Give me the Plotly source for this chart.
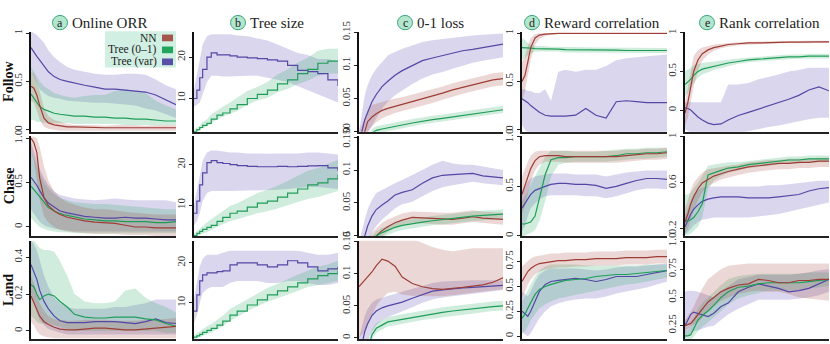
import plotly.graph_objects as go

# ---------------- data ----------------
X = [0, 2, 4, 6, 9, 12, 16, 20, 25, 30, 37, 44, 51, 58, 65, 72, 79, 86, 93, 100]

# Follow / Online ORR
fo_orr_nn = [0.45, 0.43, 0.36, 0.25, 0.12, 0.07, 0.05, 0.04, 0.03, 0.03, 0.025, 0.025, 0.02, 0.02, 0.02, 0.02, 0.02, 0.02, 0.02, 0.02]
fo_orr_nn_lo = [0.3, 0.28, 0.2, 0.1, 0.03, 0.01, 0.0, -0.01, -0.01, -0.01, -0.01, -0.01, -0.01, -0.01, -0.01, -0.01, -0.01, -0.01, -0.01, -0.01]
fo_orr_nn_hi = [0.6, 0.58, 0.5, 0.4, 0.22, 0.14, 0.1, 0.08, 0.06, 0.05, 0.05, 0.05, 0.04, 0.05, 0.05, 0.05, 0.04, 0.05, 0.05, 0.05]
fo_orr_t01 = [0.37, 0.33, 0.28, 0.24, 0.21, 0.19, 0.17, 0.16, 0.15, 0.14, 0.14, 0.13, 0.13, 0.12, 0.12, 0.11, 0.11, 0.1, 0.09, 0.09]
fo_orr_t01_lo = [0.1, 0.1, 0.08, 0.08, 0.07, 0.07, 0.07, 0.07, 0.07, 0.06, 0.06, 0.06, 0.06, 0.06, 0.05, 0.05, 0.05, 0.05, 0.05, 0.05]
fo_orr_t01_hi = [0.65, 0.6, 0.55, 0.5, 0.45, 0.42, 0.38, 0.36, 0.34, 0.33, 0.35, 0.36, 0.36, 0.4, 0.42, 0.4, 0.38, 0.3, 0.25, 0.21]
fo_orr_tv = [0.85, 0.8, 0.76, 0.72, 0.66, 0.6, 0.55, 0.52, 0.5, 0.48, 0.46, 0.44, 0.42, 0.42, 0.41, 0.4, 0.39, 0.36, 0.31, 0.26]
fo_orr_tv_lo = [0.62, 0.55, 0.48, 0.42, 0.38, 0.35, 0.33, 0.32, 0.3, 0.3, 0.29, 0.28, 0.28, 0.27, 0.26, 0.25, 0.22, 0.2, 0.16, 0.12]
fo_orr_tv_hi = [1.02, 1.0, 0.98, 0.95, 0.9, 0.82, 0.75, 0.7, 0.65, 0.62, 0.6, 0.58, 0.57, 0.57, 0.58, 0.58, 0.57, 0.52, 0.46, 0.42]

# Follow / Tree size
fo_ts_t01 = [2, 2.5, 3, 3.5, 4, 5, 6, 6.5, 7.5, 8.5, 10, 11, 12, 13.5, 14.5, 16, 17, 18.5, 19, 19]
fo_ts_t01_lo = [1.5, 2, 2.5, 2.8, 3.2, 4, 5, 5.5, 6.3, 7, 8.5, 9.5, 10.2, 11.5, 12.3, 13.5, 14.3, 15.5, 16, 16]
fo_ts_t01_hi = [2.5, 3, 3.5, 4.3, 5, 6.2, 7.2, 8, 9, 10.2, 11.8, 12.8, 14, 15.8, 17, 18.6, 19.8, 21.5, 22, 22]
fo_ts_tv = [10, 12, 15, 17, 20, 21, 20.5, 20.5, 20.3, 20, 19.8, 19.6, 19.3, 19, 18, 16.8, 16.5, 16, 14.5, 13]
fo_ts_tv_lo = [8, 8.5, 9, 11, 14, 15.5, 15.5, 15.3, 15.3, 15.3, 15.5, 15.5, 15, 14.5, 14, 13, 12, 11, 10, 9]
fo_ts_tv_hi = [12, 16, 20, 23, 25, 25.5, 25.5, 25.5, 25.5, 25.2, 25, 24.5, 24, 23, 22, 21, 20.5, 19.5, 19.5, 19]

# Follow / 0-1 loss
fo_loss_nn = [-0.02, -0.01, 0.0, 0.015, 0.022, 0.027, 0.032, 0.035, 0.038, 0.041, 0.045, 0.049, 0.053, 0.058, 0.063, 0.067, 0.071, 0.075, 0.078, 0.08]
fo_loss_nn_lo = [-0.03, -0.02, -0.01, 0.0, 0.008, 0.014, 0.02, 0.024, 0.028, 0.031, 0.035, 0.039, 0.043, 0.048, 0.053, 0.057, 0.061, 0.065, 0.068, 0.07]
fo_loss_nn_hi = [0.0, 0.01, 0.02, 0.033, 0.04, 0.042, 0.045, 0.047, 0.05, 0.052, 0.056, 0.06, 0.063, 0.068, 0.073, 0.077, 0.081, 0.085, 0.088, 0.09]
fo_loss_t01 = [-0.03, -0.025, -0.02, -0.012, -0.002, 0.002, 0.004, 0.006, 0.008, 0.01, 0.013, 0.016, 0.018, 0.02, 0.022, 0.024, 0.026, 0.028, 0.031, 0.033]
fo_loss_t01_lo = [-0.035, -0.03, -0.025, -0.017, -0.007, -0.003, -0.001, 0.001, 0.003, 0.005, 0.008, 0.011, 0.013, 0.015, 0.017, 0.019, 0.021, 0.023, 0.026, 0.028]
fo_loss_t01_hi = [-0.024, -0.019, -0.014, -0.006, 0.004, 0.008, 0.01, 0.012, 0.014, 0.016, 0.019, 0.022, 0.024, 0.026, 0.028, 0.03, 0.032, 0.034, 0.037, 0.039]
fo_loss_tv = [-0.03, 0.0, 0.018, 0.03, 0.045, 0.056, 0.068, 0.076, 0.085, 0.092, 0.1, 0.107, 0.111, 0.115, 0.119, 0.122, 0.124, 0.127, 0.13, 0.132]
fo_loss_tv_lo = [-0.05, -0.02, -0.01, 0.0, 0.01, 0.02, 0.035, 0.045, 0.055, 0.062, 0.072, 0.08, 0.086, 0.09, 0.095, 0.1, 0.104, 0.107, 0.11, 0.112]
fo_loss_tv_hi = [0.0, 0.03, 0.055, 0.07, 0.085, 0.095, 0.105, 0.115, 0.12, 0.125, 0.13, 0.135, 0.138, 0.14, 0.142, 0.143, 0.145, 0.146, 0.147, 0.148]

# Follow / Reward correlation
fo_rew_nn = [0.5, 0.56, 0.7, 0.85, 0.95, 0.98, 0.99, 0.995, 0.998, 0.998, 0.998, 0.998, 0.998, 0.998, 0.998, 0.998, 0.998, 0.998, 0.998, 0.998]
fo_rew_nn_lo = [0.3, 0.4, 0.55, 0.72, 0.88, 0.94, 0.97, 0.98, 0.99, 0.99, 0.99, 0.99, 0.99, 0.99, 0.99, 0.99, 0.99, 0.99, 0.99, 0.99]
fo_rew_nn_hi = [0.7, 0.75, 0.87, 0.95, 0.99, 1.0, 1.0, 1.0, 1.0, 1.0, 1.0, 1.0, 1.0, 1.0, 1.0, 1.0, 1.0, 1.0, 1.0, 1.0]
fo_rew_t01 = [0.85, 0.85, 0.85, 0.845, 0.84, 0.84, 0.84, 0.84, 0.835, 0.83, 0.83, 0.83, 0.825, 0.825, 0.825, 0.82, 0.82, 0.82, 0.82, 0.82]
fo_rew_t01_lo = [0.72, 0.74, 0.77, 0.79, 0.81, 0.81, 0.81, 0.81, 0.81, 0.8, 0.8, 0.8, 0.8, 0.8, 0.8, 0.795, 0.795, 0.795, 0.795, 0.795]
fo_rew_t01_hi = [0.95, 0.93, 0.9, 0.88, 0.87, 0.865, 0.865, 0.86, 0.86, 0.86, 0.855, 0.855, 0.85, 0.85, 0.85, 0.845, 0.845, 0.845, 0.845, 0.845]
fo_rew_tv = [0.32, 0.3, 0.28, 0.25, 0.21, 0.18, 0.15, 0.14, 0.14, 0.14, 0.15, 0.22, 0.15, 0.12, 0.29, 0.3, 0.29, 0.28, 0.28, 0.28]
fo_rew_tv_lo = [0.05, 0.0, -0.03, -0.03, -0.03, -0.03, -0.03, -0.03, -0.03, -0.03, -0.03, -0.03, -0.03, -0.03, -0.03, -0.03, -0.03, -0.03, -0.03, -0.03]
fo_rew_tv_hi = [0.42, 0.42, 0.4, 0.4, 0.38, 0.38, 0.42, 0.3, 0.6, 0.62, 0.6, 0.62, 0.62, 0.66, 0.72, 0.74, 0.75, 0.76, 0.77, 0.78]

# Follow / Rank correlation
fo_rank_nn = [-0.04, 0.1, 0.3, 0.5, 0.65, 0.73, 0.78, 0.81, 0.83, 0.85, 0.86, 0.87, 0.87, 0.875, 0.88, 0.88, 0.88, 0.885, 0.885, 0.885]
fo_rank_nn_lo = [-0.2, -0.1, 0.08, 0.3, 0.52, 0.64, 0.72, 0.77, 0.8, 0.82, 0.84, 0.85, 0.855, 0.86, 0.865, 0.865, 0.865, 0.87, 0.87, 0.87]
fo_rank_nn_hi = [0.1, 0.3, 0.52, 0.7, 0.78, 0.81, 0.83, 0.85, 0.86, 0.87, 0.88, 0.885, 0.89, 0.89, 0.895, 0.895, 0.9, 0.9, 0.9, 0.9]
fo_rank_t01 = [0.33, 0.36, 0.4, 0.45, 0.5, 0.53, 0.55, 0.57, 0.59, 0.61, 0.63, 0.65, 0.66, 0.67, 0.68, 0.69, 0.69, 0.7, 0.7, 0.7]
fo_rank_t01_lo = [0.18, 0.22, 0.28, 0.35, 0.42, 0.46, 0.49, 0.52, 0.54, 0.57, 0.6, 0.62, 0.63, 0.64, 0.65, 0.66, 0.665, 0.67, 0.67, 0.67]
fo_rank_t01_hi = [0.5, 0.52, 0.55, 0.58, 0.6, 0.61, 0.62, 0.63, 0.64, 0.65, 0.67, 0.68, 0.69, 0.7, 0.71, 0.72, 0.72, 0.73, 0.73, 0.73]
fo_rank_tv = [0.03, 0.02, 0.0, -0.04, -0.09, -0.13, -0.17, -0.19, -0.18, -0.13, -0.07, -0.03, 0.01, 0.05, 0.1, 0.14, 0.19, 0.26, 0.3, 0.25]
fo_rank_tv_lo = [-0.25, -0.27, -0.3, -0.3, -0.3, -0.3, -0.3, -0.3, -0.3, -0.3, -0.3, -0.28, -0.25, -0.22, -0.2, -0.18, -0.15, -0.12, -0.1, -0.1]
fo_rank_tv_hi = [0.1, 0.1, 0.1, 0.1, 0.1, 0.1, 0.1, 0.1, 0.1, 0.33, 0.33, 0.35, 0.4, 0.43, 0.46, 0.5, 0.52, 0.55, 0.55, 0.55]

# Chase / Online ORR
ch_orr_nn = [1.0, 0.95, 0.84, 0.55, 0.33, 0.24, 0.18, 0.14, 0.11, 0.09, 0.07, 0.055, 0.05, 0.04, 0.02, 0.0, 0.0, -0.01, -0.01, -0.01]
ch_orr_nn_lo = [0.85, 0.75, 0.55, 0.3, 0.12, 0.05, 0.0, -0.03, -0.05, -0.06, -0.07, -0.08, -0.08, -0.08, -0.09, -0.09, -0.09, -0.1, -0.1, -0.1]
ch_orr_nn_hi = [1.02, 1.02, 1.0, 0.9, 0.68, 0.52, 0.4, 0.33, 0.28, 0.25, 0.22, 0.2, 0.2, 0.19, 0.17, 0.16, 0.15, 0.14, 0.14, 0.14]
ch_orr_t01 = [0.46, 0.42, 0.38, 0.33, 0.27, 0.22, 0.18, 0.15, 0.13, 0.11, 0.09, 0.08, 0.07, 0.07, 0.06, 0.06, 0.06, 0.05, 0.05, 0.06]
ch_orr_t01_lo = [0.1, 0.06, 0.03, 0.0, -0.02, -0.04, -0.05, -0.06, -0.06, -0.07, -0.07, -0.07, -0.07, -0.07, -0.07, -0.07, -0.07, -0.07, -0.07, -0.07]
ch_orr_t01_hi = [0.85, 0.78, 0.68, 0.6, 0.5, 0.43, 0.37, 0.33, 0.3, 0.28, 0.27, 0.26, 0.26, 0.25, 0.24, 0.23, 0.22, 0.21, 0.2, 0.2]
ch_orr_tv = [0.56, 0.52, 0.47, 0.41, 0.33, 0.27, 0.22, 0.18, 0.16, 0.14, 0.12, 0.11, 0.1, 0.1, 0.11, 0.1, 0.1, 0.09, 0.08, 0.08]
ch_orr_tv_lo = [0.2, 0.15, 0.1, 0.06, 0.02, 0.0, -0.02, -0.03, -0.04, -0.05, -0.05, -0.05, -0.05, -0.05, -0.05, -0.05, -0.05, -0.05, -0.05, -0.05]
ch_orr_tv_hi = [0.95, 0.85, 0.75, 0.65, 0.55, 0.47, 0.4, 0.36, 0.34, 0.32, 0.31, 0.3, 0.31, 0.32, 0.31, 0.3, 0.3, 0.3, 0.3, 0.28]

# Chase / Tree size
ch_ts_t01 = [2.5, 3, 3.5, 4, 4.5, 5, 6, 7, 8, 8.5, 9.5, 10.5, 11, 12, 13, 14, 15, 15.5, 16.5, 17.5]
ch_ts_t01_lo = [2, 2.3, 2.6, 3, 3.3, 3.7, 4.5, 5.3, 6, 6.5, 7.3, 8, 8.5, 9.2, 10, 10.8, 11.5, 12, 12.8, 13.5]
ch_ts_t01_hi = [3, 3.6, 4.3, 5, 5.7, 6.5, 7.5, 8.6, 9.8, 10.5, 11.8, 13, 13.8, 14.8, 16, 17.2, 18.5, 19.2, 20.2, 21.2]
ch_ts_tv = [8, 11, 15, 18, 20.5, 21, 20.5, 20.3, 20, 19.8, 19.6, 19.5, 19.5, 19.6, 19.5, 19.6, 19.7, 19.8, 19.2, 18.5]
ch_ts_tv_lo = [5, 6, 8, 11, 13, 13.5, 13.5, 13.5, 13.5, 13.5, 13.5, 13.6, 13.7, 13.8, 14, 14.2, 14.5, 14.5, 14.3, 14]
ch_ts_tv_hi = [10, 14, 18, 21, 23, 23.5, 23.5, 23.3, 23, 23, 22.8, 22.8, 22.7, 22.8, 22.8, 22.8, 23, 23, 22.8, 22.5]

# Chase / 0-1 loss
ch_loss_nn = [-0.03, -0.025, -0.02, -0.015, -0.008, 0.0, 0.008, 0.014, 0.02, 0.024, 0.028, 0.027, 0.026, 0.025, 0.025, 0.027, 0.029, 0.027, 0.026, 0.025]
ch_loss_nn_lo = [-0.04, -0.035, -0.03, -0.025, -0.016, -0.008, 0.0, 0.006, 0.012, 0.016, 0.02, 0.019, 0.018, 0.017, 0.017, 0.019, 0.021, 0.019, 0.018, 0.017]
ch_loss_nn_hi = [-0.02, -0.015, -0.01, -0.003, 0.005, 0.012, 0.02, 0.025, 0.03, 0.034, 0.037, 0.037, 0.036, 0.035, 0.035, 0.037, 0.039, 0.037, 0.036, 0.035]
ch_loss_t01 = [-0.03, -0.025, -0.02, -0.015, -0.008, 0.0, 0.005, 0.009, 0.013, 0.016, 0.019, 0.021, 0.023, 0.025, 0.026, 0.028, 0.03, 0.031, 0.032, 0.033]
ch_loss_t01_lo = [-0.037, -0.032, -0.027, -0.022, -0.015, -0.007, -0.002, 0.002, 0.006, 0.009, 0.012, 0.014, 0.016, 0.018, 0.019, 0.021, 0.023, 0.024, 0.025, 0.026]
ch_loss_t01_hi = [-0.023, -0.018, -0.013, -0.008, -0.001, 0.007, 0.012, 0.016, 0.02, 0.023, 0.026, 0.028, 0.03, 0.032, 0.033, 0.035, 0.037, 0.038, 0.039, 0.04]
ch_loss_tv = [-0.03, -0.015, 0.0, 0.015, 0.03, 0.04, 0.047, 0.053, 0.062, 0.066, 0.07, 0.08, 0.088, 0.092, 0.093, 0.094, 0.095, 0.091, 0.089, 0.088]
ch_loss_tv_lo = [-0.05, -0.04, -0.025, -0.01, 0.005, 0.015, 0.025, 0.032, 0.042, 0.048, 0.052, 0.06, 0.068, 0.074, 0.077, 0.08, 0.082, 0.08, 0.078, 0.077]
ch_loss_tv_hi = [-0.01, 0.01, 0.025, 0.04, 0.055, 0.065, 0.07, 0.075, 0.08, 0.085, 0.092, 0.1, 0.108, 0.114, 0.11, 0.108, 0.108, 0.105, 0.102, 0.1]

# Chase / Reward correlation
ch_rew_nn = [0.42, 0.5, 0.6, 0.68, 0.76, 0.8, 0.81, 0.81, 0.81, 0.8, 0.8, 0.8, 0.8, 0.8, 0.8, 0.81, 0.82, 0.83, 0.83, 0.84]
ch_rew_nn_lo = [0.22, 0.3, 0.42, 0.55, 0.66, 0.72, 0.75, 0.75, 0.75, 0.74, 0.74, 0.74, 0.74, 0.74, 0.74, 0.75, 0.76, 0.77, 0.77, 0.78]
ch_rew_nn_hi = [0.6, 0.68, 0.75, 0.81, 0.85, 0.86, 0.86, 0.86, 0.86, 0.86, 0.86, 0.86, 0.86, 0.86, 0.86, 0.87, 0.87, 0.88, 0.88, 0.89]
ch_rew_t01 = [0.12, 0.12, 0.13, 0.14, 0.2, 0.38, 0.62, 0.77, 0.79, 0.79, 0.8, 0.8, 0.8, 0.8, 0.81, 0.83, 0.83, 0.84, 0.84, 0.85]
ch_rew_t01_lo = [0.0, 0.0, 0.02, 0.03, 0.06, 0.15, 0.35, 0.6, 0.72, 0.74, 0.75, 0.75, 0.75, 0.75, 0.76, 0.77, 0.78, 0.78, 0.79, 0.8]
ch_rew_t01_hi = [0.35, 0.4, 0.45, 0.52, 0.6, 0.68, 0.8, 0.86, 0.86, 0.86, 0.85, 0.85, 0.85, 0.86, 0.87, 0.88, 0.88, 0.89, 0.89, 0.89]
ch_rew_tv = [0.28, 0.33, 0.38, 0.42, 0.46, 0.48, 0.5, 0.52, 0.53, 0.53, 0.52, 0.52, 0.51, 0.48, 0.5, 0.53, 0.56, 0.58, 0.58, 0.57]
ch_rew_tv_lo = [0.05, 0.1, 0.2, 0.28, 0.33, 0.37, 0.4, 0.41, 0.41, 0.41, 0.41, 0.4, 0.4, 0.38, 0.4, 0.43, 0.46, 0.48, 0.48, 0.47]
ch_rew_tv_hi = [0.45, 0.5, 0.55, 0.58, 0.6, 0.61, 0.62, 0.63, 0.63, 0.63, 0.62, 0.62, 0.62, 0.6, 0.62, 0.64, 0.65, 0.66, 0.66, 0.66]

# Chase / Rank correlation
ch_rank_nn = [0.26, 0.33, 0.42, 0.48, 0.55, 0.6, 0.63, 0.66, 0.68, 0.7, 0.72, 0.74, 0.75, 0.76, 0.77, 0.77, 0.78, 0.78, 0.79, 0.79]
ch_rank_nn_lo = [0.16, 0.2, 0.28, 0.36, 0.45, 0.52, 0.57, 0.6, 0.63, 0.65, 0.67, 0.69, 0.7, 0.71, 0.72, 0.72, 0.73, 0.73, 0.74, 0.74]
ch_rank_nn_hi = [0.38, 0.45, 0.54, 0.6, 0.65, 0.69, 0.72, 0.73, 0.74, 0.75, 0.76, 0.78, 0.79, 0.8, 0.8, 0.81, 0.81, 0.81, 0.82, 0.82]
ch_rank_t01 = [0.27, 0.27, 0.28, 0.3, 0.35, 0.42, 0.67, 0.69, 0.71, 0.73, 0.74, 0.76, 0.77, 0.78, 0.79, 0.8, 0.8, 0.81, 0.81, 0.81]
ch_rank_t01_lo = [0.15, 0.15, 0.16, 0.18, 0.22, 0.3, 0.55, 0.62, 0.66, 0.69, 0.71, 0.73, 0.74, 0.75, 0.76, 0.77, 0.77, 0.78, 0.78, 0.78]
ch_rank_t01_hi = [0.5, 0.5, 0.52, 0.55, 0.6, 0.66, 0.75, 0.76, 0.77, 0.78, 0.78, 0.79, 0.8, 0.81, 0.82, 0.83, 0.83, 0.84, 0.84, 0.84]
ch_rank_tv = [0.22, 0.28, 0.33, 0.37, 0.41, 0.44, 0.46, 0.47, 0.48, 0.48, 0.48, 0.47, 0.47, 0.47, 0.48, 0.49, 0.5, 0.53, 0.55, 0.56]
ch_rank_tv_lo = [0.15, 0.17, 0.2, 0.23, 0.26, 0.28, 0.29, 0.3, 0.3, 0.3, 0.3, 0.3, 0.31, 0.32, 0.33, 0.35, 0.37, 0.39, 0.41, 0.43]
ch_rank_tv_hi = [0.32, 0.38, 0.45, 0.5, 0.54, 0.56, 0.57, 0.57, 0.57, 0.57, 0.57, 0.57, 0.57, 0.58, 0.58, 0.59, 0.6, 0.61, 0.62, 0.62]

# Land / Online ORR
la_orr_nn = [0.19, 0.15, 0.11, 0.08, 0.05, 0.035, 0.02, 0.01, 0.005, 0.005, 0.01, 0.015, 0.015, 0.01, 0.005, 0.005, 0.01, 0.015, 0.02, 0.025]
la_orr_nn_lo = [0.05, 0.03, 0.0, -0.02, -0.03, -0.035, -0.04, -0.04, -0.04, -0.04, -0.04, -0.04, -0.04, -0.04, -0.04, -0.04, -0.04, -0.04, -0.04, -0.04]
la_orr_nn_hi = [0.3, 0.26, 0.2, 0.15, 0.11, 0.08, 0.065, 0.06, 0.055, 0.055, 0.06, 0.06, 0.06, 0.055, 0.055, 0.055, 0.06, 0.06, 0.065, 0.07]
la_orr_t01 = [0.25, 0.24, 0.2, 0.17, 0.19, 0.2, 0.19, 0.16, 0.13, 0.09, 0.075, 0.07, 0.07, 0.075, 0.075, 0.075, 0.065, 0.06, 0.04, 0.025]
la_orr_t01_lo = [0.08, 0.07, 0.05, 0.04, 0.04, 0.04, 0.03, 0.02, 0.01, 0.0, 0.0, 0.0, 0.0, 0.0, 0.0, 0.0, 0.0, 0.0, -0.01, -0.01]
la_orr_t01_hi = [0.49, 0.49, 0.47, 0.45, 0.44, 0.44, 0.43, 0.38, 0.3, 0.2, 0.16, 0.15, 0.15, 0.16, 0.22, 0.23, 0.18, 0.15, 0.13, 0.1]
la_orr_tv = [0.36, 0.32, 0.28, 0.22, 0.16, 0.12, 0.08, 0.055, 0.045, 0.045, 0.045, 0.05, 0.05, 0.05, 0.045, 0.04, 0.05, 0.065, 0.045, 0.04]
la_orr_tv_lo = [0.2, 0.15, 0.1, 0.06, 0.03, 0.01, 0.0, -0.01, -0.02, -0.02, -0.02, -0.02, -0.02, -0.02, -0.02, -0.02, -0.02, -0.02, -0.02, -0.02]
la_orr_tv_hi = [0.49, 0.47, 0.44, 0.38, 0.3, 0.24, 0.18, 0.15, 0.13, 0.12, 0.12, 0.12, 0.12, 0.13, 0.13, 0.14, 0.15, 0.17, 0.17, 0.17]

# Land / Tree size
la_ts_t01 = [1.5, 1.8, 2.2, 2.7, 3.2, 3.7, 4.5, 5.5, 7, 8, 9.5, 10.8, 12, 13, 14, 15, 16, 16.8, 17.3, 18]
la_ts_t01_lo = [1, 1.2, 1.5, 1.8, 2.2, 2.6, 3.3, 4.2, 5.5, 6.5, 8, 9.2, 10.3, 11.2, 12, 13, 14, 14.6, 15, 15.5]
la_ts_t01_hi = [2, 2.5, 3, 3.6, 4.2, 4.8, 5.8, 6.8, 8.5, 9.5, 11, 12.4, 13.7, 14.8, 16, 17, 18, 19, 19.6, 20.5]
la_ts_tv = [8, 12, 15.5, 17, 17.5, 17.5, 17.8, 18, 19.5, 20, 20, 19.5, 19, 19.5, 20.5, 20, 19, 18, 18.5, 19]
la_ts_tv_lo = [5, 7, 10, 12.5, 13.5, 14, 14, 14, 15, 15.5, 15.5, 15.5, 15, 15, 15.5, 15.5, 15, 14.5, 14.5, 15]
la_ts_tv_hi = [11, 15, 19, 21, 22, 22, 22, 22.5, 23, 23, 23, 23, 23, 23, 23, 23, 22.5, 22, 22, 22.5]

# Land / 0-1 loss
la_loss_nn = [0.08, 0.085, 0.09, 0.095, 0.103, 0.113, 0.123, 0.12, 0.112, 0.095, 0.085, 0.08, 0.077, 0.076, 0.077, 0.079, 0.081, 0.083, 0.087, 0.094]
la_loss_nn_lo = [0.0, 0.005, 0.01, 0.02, 0.035, 0.05, 0.062, 0.07, 0.072, 0.068, 0.066, 0.065, 0.065, 0.065, 0.066, 0.068, 0.07, 0.072, 0.074, 0.076]
la_loss_nn_hi = [0.16, 0.16, 0.16, 0.16, 0.16, 0.16, 0.16, 0.16, 0.16, 0.16, 0.155, 0.148, 0.142, 0.138, 0.135, 0.138, 0.14, 0.14, 0.14, 0.14]
la_loss_t01 = [-0.03, -0.03, -0.025, -0.02, 0.005, 0.015, 0.02, 0.025, 0.027, 0.029, 0.032, 0.035, 0.038, 0.04, 0.042, 0.044, 0.046, 0.047, 0.049, 0.05]
la_loss_t01_lo = [-0.037, -0.037, -0.032, -0.027, -0.002, 0.008, 0.013, 0.018, 0.02, 0.022, 0.025, 0.028, 0.031, 0.033, 0.035, 0.037, 0.039, 0.04, 0.042, 0.043]
la_loss_t01_hi = [-0.022, -0.022, -0.017, -0.012, 0.013, 0.023, 0.028, 0.033, 0.035, 0.037, 0.04, 0.043, 0.046, 0.048, 0.05, 0.052, 0.054, 0.055, 0.057, 0.058]
la_loss_tv = [-0.03, -0.01, 0.01, 0.022, 0.035, 0.042, 0.047, 0.05, 0.053, 0.056, 0.062, 0.068, 0.073, 0.075, 0.077, 0.078, 0.079, 0.08, 0.081, 0.082]
la_loss_tv_lo = [-0.06, -0.04, -0.02, -0.005, 0.01, 0.02, 0.028, 0.033, 0.037, 0.041, 0.048, 0.055, 0.06, 0.063, 0.066, 0.068, 0.07, 0.071, 0.073, 0.075]
la_loss_tv_hi = [0.0, 0.02, 0.035, 0.045, 0.055, 0.06, 0.063, 0.066, 0.069, 0.072, 0.077, 0.082, 0.086, 0.088, 0.089, 0.09, 0.09, 0.09, 0.09, 0.09]

# Land / Reward correlation
la_rew_nn = [0.55, 0.6, 0.65, 0.68, 0.71, 0.73, 0.74, 0.75, 0.76, 0.76, 0.77, 0.77, 0.78, 0.78, 0.78, 0.79, 0.79, 0.79, 0.8, 0.8]
la_rew_nn_lo = [0.38, 0.45, 0.52, 0.57, 0.62, 0.65, 0.67, 0.68, 0.69, 0.69, 0.7, 0.7, 0.71, 0.71, 0.71, 0.72, 0.72, 0.72, 0.73, 0.73]
la_rew_nn_hi = [0.7, 0.73, 0.76, 0.78, 0.8, 0.81, 0.82, 0.83, 0.83, 0.84, 0.84, 0.84, 0.85, 0.85, 0.85, 0.86, 0.86, 0.86, 0.87, 0.87]
la_rew_t01 = [0.18, 0.22, 0.28, 0.34, 0.42, 0.47, 0.5, 0.52, 0.54, 0.56, 0.57, 0.58, 0.6, 0.61, 0.62, 0.62, 0.63, 0.64, 0.65, 0.66]
la_rew_t01_lo = [0.02, 0.05, 0.1, 0.16, 0.22, 0.28, 0.32, 0.35, 0.38, 0.4, 0.42, 0.44, 0.46, 0.48, 0.5, 0.52, 0.53, 0.55, 0.57, 0.59]
la_rew_t01_hi = [0.35, 0.4, 0.46, 0.52, 0.6, 0.66, 0.7, 0.72, 0.72, 0.72, 0.72, 0.71, 0.71, 0.71, 0.71, 0.71, 0.71, 0.72, 0.72, 0.72]
la_rew_tv = [0.25, 0.22, 0.2, 0.25, 0.35, 0.45, 0.52, 0.55, 0.56, 0.57, 0.58, 0.57, 0.55, 0.57, 0.6, 0.6, 0.6, 0.62, 0.64, 0.66]
la_rew_tv_lo = [0.05, 0.02, 0.0, 0.03, 0.1, 0.18, 0.25, 0.3, 0.33, 0.35, 0.37, 0.38, 0.38, 0.4, 0.43, 0.45, 0.47, 0.49, 0.52, 0.55]
la_rew_tv_hi = [0.45, 0.42, 0.4, 0.45, 0.55, 0.62, 0.66, 0.68, 0.68, 0.68, 0.68, 0.67, 0.66, 0.67, 0.69, 0.7, 0.7, 0.71, 0.72, 0.73]

# Land / Rank correlation
la_rank_nn = [0.25, 0.26, 0.27, 0.3, 0.35, 0.4, 0.46, 0.5, 0.55, 0.58, 0.61, 0.62, 0.66, 0.65, 0.63, 0.63, 0.65, 0.65, 0.66, 0.66]
la_rank_nn_lo = [0.2, 0.22, 0.24, 0.26, 0.28, 0.32, 0.38, 0.42, 0.47, 0.5, 0.53, 0.55, 0.56, 0.55, 0.55, 0.53, 0.5, 0.49, 0.48, 0.47]
la_rank_nn_hi = [0.3, 0.33, 0.37, 0.42, 0.5, 0.58, 0.66, 0.7, 0.75, 0.78, 0.79, 0.8, 0.8, 0.8, 0.8, 0.8, 0.8, 0.8, 0.8, 0.8]
la_rank_t01 = [0.16, 0.16, 0.17, 0.22, 0.3, 0.34, 0.38, 0.43, 0.5, 0.55, 0.59, 0.6, 0.62, 0.63, 0.63, 0.63, 0.63, 0.64, 0.65, 0.66]
la_rank_t01_lo = [0.13, 0.13, 0.13, 0.15, 0.2, 0.24, 0.28, 0.32, 0.38, 0.44, 0.49, 0.52, 0.54, 0.56, 0.56, 0.56, 0.57, 0.58, 0.59, 0.6]
la_rank_t01_hi = [0.2, 0.21, 0.24, 0.3, 0.4, 0.45, 0.5, 0.55, 0.61, 0.66, 0.69, 0.7, 0.71, 0.71, 0.71, 0.71, 0.71, 0.72, 0.72, 0.72]
la_rank_tv = [0.25, 0.3, 0.35, 0.37, 0.36, 0.35, 0.33, 0.36, 0.42, 0.45, 0.55, 0.59, 0.62, 0.6, 0.58, 0.55, 0.56, 0.58, 0.62, 0.66]
la_rank_tv_lo = [0.14, 0.16, 0.18, 0.2, 0.21, 0.22, 0.24, 0.25, 0.3, 0.35, 0.4, 0.44, 0.48, 0.48, 0.48, 0.48, 0.49, 0.5, 0.52, 0.55]
la_rank_tv_hi = [0.55, 0.56, 0.56, 0.56, 0.55, 0.54, 0.52, 0.5, 0.56, 0.6, 0.66, 0.68, 0.7, 0.7, 0.7, 0.7, 0.71, 0.72, 0.74, 0.75]

# Labels
col_titles = ["Online ORR", "Tree size", "0-1 loss", "Reward correlation", "Rank correlation"]
col_letters = ["a", "b", "c", "d", "e"]
row_titles = ["Follow", "Chase", "Land"]
legend_labels = ["NN", "Tree (0–1)", "Tree (var)"]

tick_vals = [
    [[0, 0.5, 1], [10, 20], [0, 0.05, 0.1, 0.15], [0, 0.5, 1], [0, 0.5, 1]],
    [[0, 0.5, 1], [10, 20], [0, 0.05, 0.1, 0.15], [0, 0.5, 1], [0.2, 0.6, 1]],
    [[0, 0.2, 0.4], [10, 20], [0, 0.05, 0.1, 0.15], [0, 0.25, 0.5, 0.75], [0.25, 0.5, 0.75, 1]],
]
tick_text = [
    [["0", "0.5", "1"], ["10", "20"], ["0", "0.05", "0.1", "0.15"], ["0", "0.5", "1"], ["0", "0.5", "1"]],
    [["0", "0.5", "1.0"], ["10", "20"], ["0", "0.05", "0.1", "0.150"], ["0", "0.5", "1.0"], ["0.2", "0.6", "1"]],
    [["0", "0.2", "0.4"], ["10", "20"], ["0", "0.05", "0.1", "0.15"], ["0", "0.25", "0.5", "0.75"], ["0.25", "0.5", "0.75", "1.0"]],
]

# ---------------- style / layout ----------------
W, H = 830, 344
FONT = "Liberation Serif"
LINE = {"nn": "#9e3d36", "t01": "#1f9d58", "tv": "#5447a6"}
BAND = {"nn": "rgba(165,75,65,0.22)", "t01": "rgba(40,170,100,0.22)", "tv": "rgba(95,85,180,0.24)"}
SWATCH = {"nn": "#a4554c", "t01": "#22a45d", "tv": "#5a4fa6"}

y_ranges = [
    [[-0.02, 1.01], [2, 26], [0, 0.15], [-0.02, 1.01], [-0.28, 1.01]],
    [[-0.1, 1.02], [2.4, 27], [0, 0.151], [0, 1.005], [0.14, 1.005]],
    [[-0.045, 0.49], [1, 25.5], [-0.002, 0.152], [-0.03, 0.96], [0.13, 1.003]],
]
col_px = [(31, 176), (194, 338), (359, 503), (522, 667), (685, 829)]
row_px = [(19, 123), (128, 232), (237, 340)]
title_circle_x = [60, 238, 405, 532, 707]

data_grid = [
    [
        [("tv", fo_orr_tv, fo_orr_tv_lo, fo_orr_tv_hi), ("t01", fo_orr_t01, fo_orr_t01_lo, fo_orr_t01_hi), ("nn", fo_orr_nn, fo_orr_nn_lo, fo_orr_nn_hi)],
        [("tv", fo_ts_tv, fo_ts_tv_lo, fo_ts_tv_hi), ("t01", fo_ts_t01, fo_ts_t01_lo, fo_ts_t01_hi)],
        [("tv", fo_loss_tv, fo_loss_tv_lo, fo_loss_tv_hi), ("nn", fo_loss_nn, fo_loss_nn_lo, fo_loss_nn_hi), ("t01", fo_loss_t01, fo_loss_t01_lo, fo_loss_t01_hi)],
        [("tv", fo_rew_tv, fo_rew_tv_lo, fo_rew_tv_hi), ("t01", fo_rew_t01, fo_rew_t01_lo, fo_rew_t01_hi), ("nn", fo_rew_nn, fo_rew_nn_lo, fo_rew_nn_hi)],
        [("tv", fo_rank_tv, fo_rank_tv_lo, fo_rank_tv_hi), ("t01", fo_rank_t01, fo_rank_t01_lo, fo_rank_t01_hi), ("nn", fo_rank_nn, fo_rank_nn_lo, fo_rank_nn_hi)],
    ],
    [
        [("tv", ch_orr_tv, ch_orr_tv_lo, ch_orr_tv_hi), ("t01", ch_orr_t01, ch_orr_t01_lo, ch_orr_t01_hi), ("nn", ch_orr_nn, ch_orr_nn_lo, ch_orr_nn_hi)],
        [("tv", ch_ts_tv, ch_ts_tv_lo, ch_ts_tv_hi), ("t01", ch_ts_t01, ch_ts_t01_lo, ch_ts_t01_hi)],
        [("tv", ch_loss_tv, ch_loss_tv_lo, ch_loss_tv_hi), ("nn", ch_loss_nn, ch_loss_nn_lo, ch_loss_nn_hi), ("t01", ch_loss_t01, ch_loss_t01_lo, ch_loss_t01_hi)],
        [("tv", ch_rew_tv, ch_rew_tv_lo, ch_rew_tv_hi), ("t01", ch_rew_t01, ch_rew_t01_lo, ch_rew_t01_hi), ("nn", ch_rew_nn, ch_rew_nn_lo, ch_rew_nn_hi)],
        [("tv", ch_rank_tv, ch_rank_tv_lo, ch_rank_tv_hi), ("t01", ch_rank_t01, ch_rank_t01_lo, ch_rank_t01_hi), ("nn", ch_rank_nn, ch_rank_nn_lo, ch_rank_nn_hi)],
    ],
    [
        [("tv", la_orr_tv, la_orr_tv_lo, la_orr_tv_hi), ("t01", la_orr_t01, la_orr_t01_lo, la_orr_t01_hi), ("nn", la_orr_nn, la_orr_nn_lo, la_orr_nn_hi)],
        [("tv", la_ts_tv, la_ts_tv_lo, la_ts_tv_hi), ("t01", la_ts_t01, la_ts_t01_lo, la_ts_t01_hi)],
        [("tv", la_loss_tv, la_loss_tv_lo, la_loss_tv_hi), ("nn", la_loss_nn, la_loss_nn_lo, la_loss_nn_hi), ("t01", la_loss_t01, la_loss_t01_lo, la_loss_t01_hi)],
        [("tv", la_rew_tv, la_rew_tv_lo, la_rew_tv_hi), ("t01", la_rew_t01, la_rew_t01_lo, la_rew_t01_hi), ("nn", la_rew_nn, la_rew_nn_lo, la_rew_nn_hi)],
        [("tv", la_rank_tv, la_rank_tv_lo, la_rank_tv_hi), ("t01", la_rank_t01, la_rank_t01_lo, la_rank_t01_hi), ("nn", la_rank_nn, la_rank_nn_lo, la_rank_nn_hi)],
    ],
]


def px_x(p):
    return p / W


def px_y(p):
    return 1 - p / H


fig = go.Figure()
layout = {}
for r in range(3):
    for c in range(5):
        k = r * 5 + c + 1
        xa = "x" if k == 1 else f"x{k}"
        ya = "y" if k == 1 else f"y{k}"
        step = (c == 1)
        series = data_grid[r][c]
        for key, mean, lo, hi in series:
            fig.add_trace(go.Scatter(
                x=X + X[::-1], y=hi + lo[::-1], xaxis=xa, yaxis=ya,
                fill="toself", fillcolor=BAND[key], line=dict(width=0),
                mode="lines", hoverinfo="skip", showlegend=False))
        for key, mean, lo, hi in series:
            fig.add_trace(go.Scatter(
                x=X, y=mean, xaxis=xa, yaxis=ya, mode="lines",
                line=dict(color=LINE[key], width=1.2, shape="hv" if step else "linear"),
                showlegend=False))
        xname = "xaxis" if k == 1 else f"xaxis{k}"
        yname = "yaxis" if k == 1 else f"yaxis{k}"
        l, rr = col_px[c]
        t, b = row_px[r]
        layout[xname] = dict(domain=[px_x(l), px_x(rr)], range=[0, 100], showgrid=False,
                             zeroline=False, showticklabels=False, ticks="",
                             showline=True, linecolor="#222", linewidth=1.8,
                             anchor=ya, fixedrange=True)
        layout[yname] = dict(domain=[px_y(b), px_y(t)], range=y_ranges[r][c], showgrid=False,
                             zeroline=False, tickvals=tick_vals[r][c], ticktext=tick_text[r][c],
                             tickangle=-90, ticks="outside", ticklen=3, tickwidth=1,
                             tickcolor="#222", showline=True, linecolor="#111", linewidth=1.5,
                             tickfont=dict(family=FONT, size=11, color="#333"),
                             anchor=xa, fixedrange=True)

annotations = []
shapes = []
for c in range(5):
    cx = title_circle_x[c]
    cy = 9
    rad = 7.5
    shapes.append(dict(type="circle", xref="paper", yref="paper",
                       x0=px_x(cx - rad), x1=px_x(cx + rad), y0=px_y(cy + rad), y1=px_y(cy - rad),
                       fillcolor="#b3e6cf", line=dict(color="#3aa77a", width=1)))
    annotations.append(dict(x=px_x(cx), y=px_y(cy + 0.5), xref="paper", yref="paper",
                            text=col_letters[c], showarrow=False, xanchor="center", yanchor="middle",
                            font=dict(family=FONT, size=12, color="#222")))
    annotations.append(dict(x=px_x(cx + 10), y=px_y(cy), xref="paper", yref="paper",
                            text=col_titles[c], showarrow=False, xanchor="left", yanchor="middle",
                            font=dict(family=FONT, size=15, color="#222")))
for r in range(3):
    t, b = row_px[r]
    annotations.append(dict(x=px_x(9), y=px_y((t + b) / 2), xref="paper", yref="paper",
                            text="<b>" + row_titles[r] + "</b>", showarrow=False, textangle=-90,
                            xanchor="center", yanchor="middle",
                            font=dict(family=FONT, size=14, color="#111")))
shapes.append(dict(type="rect", xref="paper", yref="paper", x0=px_x(105), x1=px_x(176),
                   y0=px_y(56), y1=px_y(18), fillcolor="rgba(205,238,224,0.92)", line=dict(width=0)))
for i, key in enumerate(["nn", "t01", "tv"]):
    yy = 25 + i * 12.5
    annotations.append(dict(x=px_x(159), y=px_y(yy), xref="paper", yref="paper",
                            text=legend_labels[i], showarrow=False, xanchor="right", yanchor="middle",
                            font=dict(family=FONT, size=11.5, color="#222")))
    shapes.append(dict(type="rect", xref="paper", yref="paper", x0=px_x(162), x1=px_x(173),
                       y0=px_y(yy + 3.5), y1=px_y(yy - 3.5), fillcolor=SWATCH[key], line=dict(width=0)))

fig.update_layout(
    width=W, height=H, margin=dict(l=0, r=0, t=0, b=0),
    paper_bgcolor="white", plot_bgcolor="white",
    font=dict(family=FONT), showlegend=False,
    annotations=annotations, shapes=shapes, **layout)

fig.write_html("out.html", config={"displayModeBar": False},
               post_script="document.body.style.margin='0';document.body.style.padding='0';")
